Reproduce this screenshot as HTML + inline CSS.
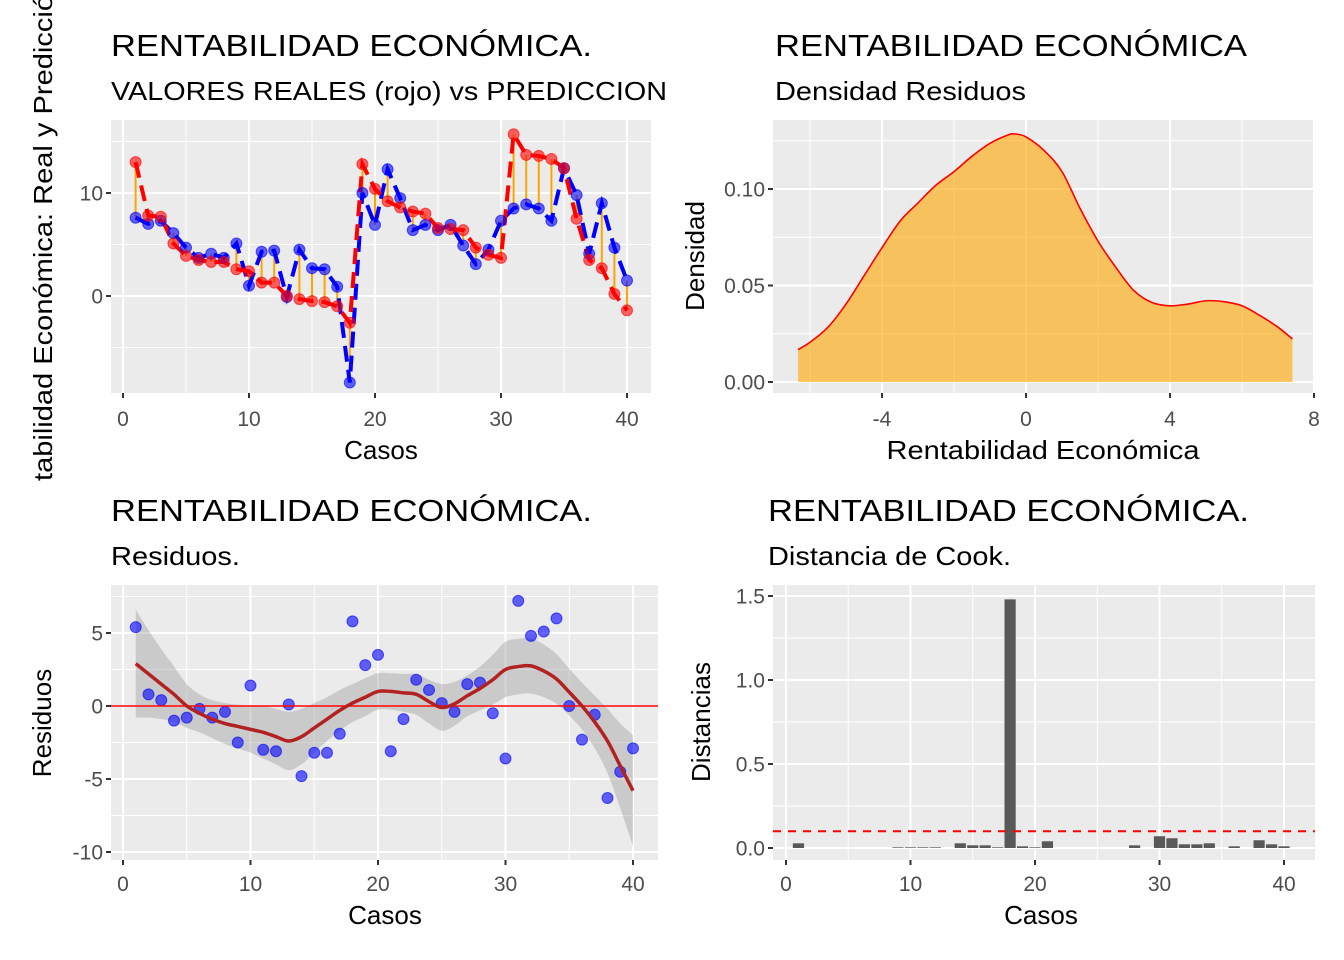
<!DOCTYPE html>
<html><head><meta charset="utf-8">
<style>
html,body{margin:0;padding:0;background:#fff;}
svg{display:block;font-family:"Liberation Sans",Arial,sans-serif;}
</style></head>
<body>
<svg id="chart" width="1344" height="960" viewBox="0 0 1344 960" xmlns="http://www.w3.org/2000/svg">
<g id="root"></g>
</svg>
<script>
// ---------- data ----------
const cases = [1,2,3,4,5,6,7,8,9,10,11,12,13,14,15,16,17,18,19,20,21,22,23,24,25,26,27,28,29,30,31,32,33,34,35,36,37,38,39,40];
const realValues = [13.0,7.8,7.7,5.1,3.9,3.5,3.3,3.3,2.6,2.4,1.3,1.3,0.0,-0.3,-0.5,-0.6,-1.0,-2.6,12.8,10.4,9.2,8.6,8.2,8.0,6.6,6.5,6.4,4.7,4.0,3.7,15.7,13.7,13.6,13.3,12.4,7.5,3.5,2.7,0.2,-1.4];
const predValues = [7.6,7.0,7.3,6.1,4.7,3.7,4.1,3.7,5.1,1.0,4.3,4.4,-0.1,4.5,2.7,2.6,0.9,-8.4,10.0,6.9,12.3,9.5,6.4,6.9,6.4,6.9,4.9,3.1,4.5,7.3,8.5,8.9,8.5,7.3,12.4,9.8,4.1,9.0,4.7,1.5];
const smoothValues = [2.9,2.2,1.5,0.8,0.0,-0.5,-0.9,-1.2,-1.4,-1.6,-1.8,-2.1,-2.4,-2.1,-1.5,-0.9,-0.3,0.2,0.6,1.0,1.0,0.9,0.8,0.3,-0.1,0.15,0.7,1.2,1.8,2.5,2.7,2.75,2.4,1.85,0.95,0.0,-1.1,-2.4,-4.1,-5.8];
const smoothSE = [3.7,3.0,2.4,1.9,1.5,1.3,1.3,1.4,1.5,1.6,1.8,1.9,2.0,1.9,1.7,1.5,1.4,1.3,1.3,1.25,1.25,1.3,1.4,1.5,1.6,1.5,1.4,1.5,1.7,1.9,1.9,1.9,1.8,1.7,1.6,1.6,1.8,2.2,2.9,3.8];
const densX = [-6.33,-6,-5.5,-5,-4.5,-4,-3.5,-3,-2.5,-2,-1.5,-1,-0.5,-0.3,0,0.5,1,1.5,2,2.5,3,3.5,4,4.5,5,5.5,6,6.5,7,7.4];
const densY = [0.0168,0.0206,0.0284,0.0404,0.055,0.0696,0.0833,0.0928,0.102,0.109,0.117,0.1237,0.128,0.1285,0.127,0.120,0.109,0.090,0.073,0.0593,0.0473,0.0412,0.0395,0.0404,0.0421,0.0416,0.0395,0.0344,0.0284,0.0223];
const cookValues = [0.028,0,0,0,0,0,0,0,0.004,0.004,0.004,0.004,0,0.028,0.016,0.016,0.004,1.48,0.01,0.004,0.04,0,0,0,0,0,0,0.016,0,0.07,0.058,0.022,0.022,0.028,0,0.01,0,0.046,0.022,0.01];
const cookThreshold = 0.1;
const casosTicks = [0,10,20,30,40];
const tlYTicks = [0,10];
const trXTicks = [-4,0,4,8];
const trYTicks = [0.00,0.05,0.10];
const trYLabels = ["0.00","0.05","0.10"];
const blYTicks = [5,0,-5,-10];
const brYTicks = [0.0,0.5,1.0,1.5];
const brYLabels = ["0.0","0.5","1.0","1.5"];

// ---------- helpers ----------
const NS = "http://www.w3.org/2000/svg";
const root = document.getElementById('root');
function mk(tag, attrs, parent){ const e=document.createElementNS(NS,tag); for(const k in attrs) e.setAttribute(k,attrs[k]); (parent||root).appendChild(e); return e; }
function txt(s, attrs, parent){ const e=mk('text',attrs,parent); e.textContent=s; return e; }
function lin(d0,d1,r0,r1){ return v => r0 + (v-d0)*(r1-r0)/(d1-d0); }
function smoothPath(P, move){
  let d = (move===false?'L':'M')+P[0][0]+','+P[0][1];
  for(let i=0;i<P.length-1;i++){
    const p0=P[Math.max(0,i-1)],p1=P[i],p2=P[i+1],p3=P[Math.min(P.length-1,i+2)];
    const c1x=p1[0]+(p2[0]-p0[0])/6, c1y=p1[1]+(p2[1]-p0[1])/6;
    const c2x=p2[0]-(p3[0]-p1[0])/6, c2y=p2[1]-(p3[1]-p1[1])/6;
    d+=' C'+c1x+','+c1y+' '+c2x+','+c2y+' '+p2[0]+','+p2[1];
  }
  return d;
}

function panel(name, x0,y0,x1,y1, sx, sy, xMaj, xMin, yMaj, yMin){
  const g = mk('g',{});
  
  
  const bg = mk('rect',{x:x0,y:y0,width:x1-x0,height:y1-y0,fill:'#EBEBEB'},g);
  
  
  xMin.forEach(v=>{const p=sx(v); if(p>x0&&p<x1) mk('line',{x1:p,x2:p,y1:y0,y2:y1,stroke:'#fff','stroke-width':1},g);});
  yMin.forEach(v=>{const p=sy(v); if(p>y0&&p<y1) mk('line',{x1:x0,x2:x1,y1:p,y2:p,stroke:'#fff','stroke-width':1},g);});
  xMaj.forEach(v=>{const p=sx(v); if(p>=x0&&p<=x1) mk('line',{x1:p,x2:p,y1:y0,y2:y1,stroke:'#fff','stroke-width':2},g);});
  yMaj.forEach(v=>{const p=sy(v); if(p>=y0&&p<=y1) mk('line',{x1:x0,x2:x1,y1:p,y2:p,stroke:'#fff','stroke-width':2},g);});
  return g;
}
function xAxis(name, ticks, labels, sx, y1, labelY){
  const g = mk('g',{});
  
  
  ticks.forEach((v,i)=>{ const p=sx(v);
    mk('line',{x1:p,x2:p,y1:y1,y2:y1+5,stroke:'#333','stroke-width':2},g);
    const t=txt(labels[i],{x:p,y:labelY,'text-anchor':'middle','font-size':21,fill:'#4D4D4D'},g);
    
    
  });
}
function yAxis(name, ticks, labels, sy, x0){
  const g = mk('g',{});
  
  
  ticks.forEach((v,i)=>{ const p=sy(v);
    mk('line',{x1:x0-5,x2:x0,y1:p,y2:p,stroke:'#333','stroke-width':2},g);
    const t=txt(labels[i],{x:x0-8,y:p+7.5,'text-anchor':'end','font-size':21,fill:'#4D4D4D'},g);
    
    
  });
}
function title(s, x, y, size, len, name){
  const t = txt(s,{x:x,y:y,'font-size':size,fill:'#000',textLength:len,lengthAdjust:'spacingAndGlyphs'});
  
  
  return t;
}
function clip(id,x0,y0,x1,y1){ const d=mk('clipPath',{id:id}); mk('rect',{x:x0,y:y0,width:x1-x0,height:y1-y0},d); }

// ---------- Panel 1: real vs pred ----------
(function(){
  const x0=111,x1=651,y0=120,y1=393;
  const sx=lin(0,40,123,627), sy=lin(0,10,296,193);
  title('RENTABILIDAD ECONÓMICA.',111,56,31,481,'real-vs-pred-title');
  title('VALORES REALES (rojo) vs PREDICCION',111,100,26,556,'real-vs-pred-subtitle');
  panel('real-vs-pred-panel',x0,y0,x1,y1,sx,sy,[0,10,20,30,40],[5,15,25,35],[0,10],[-5,5,15]);
  clip('c1',x0,y0,x1,y1);
  const g=mk('g',{'clip-path':'url(#c1)'});
  
  
  cases.forEach((c,i)=>{
    const s=mk('line',{x1:sx(c),x2:sx(c),y1:sy(realValues[i]),y2:sy(predValues[i]),stroke:'#FFA500','stroke-width':2},g);
    
    
  });
  const pr=mk('polyline',{points:cases.map((c,i)=>sx(c)+','+sy(predValues[i])).join(' '),fill:'none',stroke:'#0000FF','stroke-width':4,'stroke-dasharray':'16 8'},g);
  
  
  const rl=mk('polyline',{points:cases.map((c,i)=>sx(c)+','+sy(realValues[i])).join(' '),fill:'none',stroke:'#FF0000','stroke-width':4,'stroke-dasharray':'16 8'},g);
  
  
  cases.forEach((c,i)=>{
    const p=mk('circle',{cx:sx(c),cy:sy(predValues[i]),r:5.5,fill:'rgba(0,0,255,0.6)',stroke:'rgba(0,0,255,0.6)','stroke-width':1},g);
    
    
  });
  cases.forEach((c,i)=>{
    const p=mk('circle',{cx:sx(c),cy:sy(realValues[i]),r:5.5,fill:'rgba(255,0,0,0.6)',stroke:'rgba(255,0,0,0.6)','stroke-width':1},g);
    
    
  });
  xAxis('real-vs-pred-x-axis',casosTicks,casosTicks.map(String),sx,y1,426);
  yAxis('real-vs-pred-y-axis',tlYTicks,tlYTicks.map(String),sy,x0);
  const xt=txt('Casos',{x:381,y:459,'text-anchor':'middle','font-size':26});
   
  const yt=txt('tabilidad Económica: Real y Predicció',{x:0,y:0,'font-size':26,textLength:486,lengthAdjust:'spacingAndGlyphs',transform:'translate(52,481) rotate(-90)'});
   
})();

// ---------- Panel 2: density ----------
(function(){
  const x0=773,x1=1313,y0=120,y1=393;
  const sx=lin(0,4,1026,1170), sy=lin(0,0.1,382,189);
  title('RENTABILIDAD ECONÓMICA',775,56,31,472,'density-title');
  title('Densidad Residuos',775,100,26,251,'density-subtitle');
  panel('density-panel',x0,y0,x1,y1,sx,sy,[-4,0,4,8],[-6,-2,2,6],[0,0.05,0.1],[0.025,0.075,0.125]);
  const P=densX.map((v,i)=>[sx(v),sy(densY[i])]);
  const curve=smoothPath(P);
  const a=mk('path',{d:curve+' L'+sx(densX[densX.length-1])+','+sy(0)+' L'+sx(densX[0])+','+sy(0)+' Z',fill:'rgba(255,165,0,0.6)',stroke:'none'});
   
  const l=mk('path',{d:curve,fill:'none',stroke:'#FF0000','stroke-width':1.6});
   
  xAxis('density-x-axis',trXTicks,trXTicks.map(String),sx,y1,426);
  yAxis('density-y-axis',trYTicks,trYLabels,sy,x0);
  const xt=txt('Rentabilidad Económica',{x:1043,y:459,'text-anchor':'middle','font-size':26,textLength:313,lengthAdjust:'spacingAndGlyphs'});
   
  const yt=txt('Densidad',{x:0,y:0,'font-size':26,'text-anchor':'middle',transform:'translate(704,256) rotate(-90)'});
   
})();

// ---------- Panel 3: residuals ----------
(function(){
  const x0=111,x1=658,y0=585,y1=860;
  const sx=lin(0,40,123,633), sy=lin(0,5,706,633);
  title('RENTABILIDAD ECONÓMICA.',111,521,31,481,'residuals-title');
  title('Residuos.',111,565,26,129,'residuals-subtitle');
  panel('residuals-panel',x0,y0,x1,y1,sx,sy,[0,10,20,30,40],[5,15,25,35],[5,0,-5,-10],[7.5,2.5,-2.5,-7.5]);
  clip('c3',x0,y0,x1,y1);
  const g=mk('g',{'clip-path':'url(#c3)'});
   
  const U=cases.map((c,i)=>[sx(c),sy(smoothValues[i]+smoothSE[i])]);
  const L=cases.map((c,i)=>[sx(c),sy(smoothValues[i]-smoothSE[i])]).reverse();
  const band=mk('path',{d:smoothPath(U)+' '+smoothPath(L,false)+' Z',fill:'rgba(153,153,153,0.4)'},g);
   
  cases.forEach((c,i)=>{
    const p=mk('circle',{cx:sx(c),cy:sy(realValues[i]-predValues[i]),r:5.5,fill:'rgba(0,0,255,0.6)',stroke:'rgba(0,0,255,0.6)','stroke-width':1},g);
     
  });
  const h=mk('line',{x1:x0,x2:x1,y1:sy(0),y2:sy(0),stroke:'#FF0000','stroke-width':1.6},g);
   
  const sm=mk('path',{d:smoothPath(cases.map((c,i)=>[sx(c),sy(smoothValues[i])])),fill:'none',stroke:'#B22222','stroke-width':3.5,'stroke-linejoin':'round'},g);
   
  xAxis('residuals-x-axis',casosTicks,casosTicks.map(String),sx,y1,891);
  yAxis('residuals-y-axis',blYTicks,blYTicks.map(String),sy,x0);
  const xt=txt('Casos',{x:385,y:924,'text-anchor':'middle','font-size':26});
   
  const yt=txt('Residuos',{x:0,y:0,'font-size':26,'text-anchor':'middle',transform:'translate(51,723) rotate(-90)'});
   
})();

// ---------- Panel 4: Cook ----------
(function(){
  const x0=773,x1=1315,y0=585,y1=860;
  const sx=lin(0,40,786,1284), sy=lin(0,1,848,680);
  title('RENTABILIDAD ECONÓMICA.',768,521,31,481,'cook-title');
  title('Distancia de Cook.',768,565,26,243,'cook-subtitle');
  panel('cook-panel',x0,y0,x1,y1,sx,sy,[0,10,20,30,40],[5,15,25,35],[0,0.5,1,1.5],[0.25,0.75,1.25]);
  const bw=sx(0.9)-sx(0);
  cases.forEach((c,i)=>{
    const v=cookValues[i]; if(v<=0) return;
    const b=mk('rect',{x:sx(c)-bw/2,y:sy(v),width:bw,height:sy(0)-sy(v),fill:'#595959'});
     
  });
  const d=mk('line',{x1:x0,x2:x1,y1:sy(cookThreshold),y2:sy(cookThreshold),stroke:'#FF0000','stroke-width':2,'stroke-dasharray':'8 7'});
   
  xAxis('cook-x-axis',casosTicks,casosTicks.map(String),sx,y1,891);
  yAxis('cook-y-axis',brYTicks,brYLabels,sy,x0);
  const xt=txt('Casos',{x:1041,y:924,'text-anchor':'middle','font-size':26});
   
  const yt=txt('Distancias',{x:0,y:0,'font-size':26,'text-anchor':'middle',transform:'translate(710,722) rotate(-90)'});
   
})();
</script>
</body></html>
